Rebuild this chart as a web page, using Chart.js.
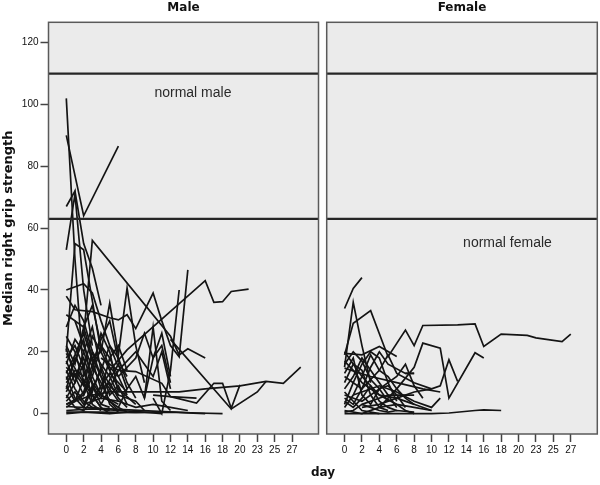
<!DOCTYPE html>
<html>
<head>
<meta charset="utf-8">
<script src="https://cdn.jsdelivr.net/npm/chart.js@4"></script>
<style>
  body { margin: 0; background: #fff; }
  #wrap { position: relative; width: 600px; height: 485px; }
  canvas { position: absolute; top: 0; }
  #male { left: 0; }
  #female { left: 322px; }
  #xtitle { position: absolute; left: 273px; width: 100px; top: 465px; text-align: center;
            font: bold 12px "DejaVu Sans"; color: #111; }
</style>
</head>
<body>
<div id="wrap">
  <canvas id="male" width="322" height="485"></canvas>
  <canvas id="female" width="278" height="485"></canvas>
  <div id="xtitle">day</div>
</div>
<script>
// day categories on the x axis (evenly spaced, not linear in days)
const dayCategories = [0,1,2,3,4,5,6,7,8,9,10,11,12,13,14,15,16,17,18,19,20,21,23,24,25,26,27,28];
const yTicks = [0, 20, 40, 60, 80, 100, 120];
const normalLines = [110, 63];

// one entry per patient: [day, median right grip strength]
const maleSeries = [
  [[0,102],[1,50],[2,12]],
  [[0,90],[2,64],[6,86.5]],
  [[0,67],[1,72],[2,55],[3,47],[4,35]],
  [[0,53],[1,71],[2,40],[3,22]],
  [[0,20],[1,55],[2,53],[4,20]],
  [[2,25],[3,56],[12,25],[13,19],[14,21],[16,18]],
  [[0,40],[2,42],[3,39],[4,30],[5,22],[6,15]],
  [[0,38],[1,33.6],[3,33],[5,31],[6,30.3],[7,32],[8,27.5],[10,39],[11,30],[12,22],[13,18.4],[14,46.5]],
  [[5,14],[7,20.6],[16,43],[17,36],[18,36.2],[19,39.5],[21,40.3]],
  [[0,3],[3,6],[5,7],[13,7],[16,8],[20,9],[24,10.4],[26,9.8],[28,15]],
  [[12,24],[19,1.5],[23,7],[24,10.4]],
  [[10,6],[12,5.5],[15,3.4],[17,9.8],[18,9.8],[19,1.7],[20,9.3]],
  [[4,18],[6,14],[8,13.6],[11,9.8],[12,5.5],[15,5]],
  [[10,5],[11,0],[12,14],[13,40]],
  [[0,2.3],[5,1.5],[10,0.8],[15,0.2],[18,0]],
  [[0,0.5],[4,0.5],[8,0.3],[12,0.5],[16,0]],
  [[0,1],[3,1.5],[6,1],[9,0.5],[11,0]],
  [[0,0],[2,0.5],[5,0],[7,0.5]],
  [[0,32],[1,30],[2,22],[3,15],[4,10],[5,4],[6,1]],
  [[0,28],[1,35],[2,30],[3,20],[4,16],[5,12],[6,6]],
  [[0,19.5],[2,9.8],[4,2],[5,0]],
  [[0,18],[1,22],[2,15],[3,25],[4,20],[5,35.7],[6,19],[7,40.6],[8,22],[9,10]],
  [[0,15],[1,12],[2,18],[3,10],[4,6],[5,4],[6,2],[7,0.5]],
  [[0,12],[1,5],[2,2],[3,8],[4,14],[5,22],[6,18],[7,10],[8,5]],
  [[0,10],[1,14],[2,12],[3,18],[4,20],[6,8],[8,3]],
  [[0,8],[1,18],[2,14],[3,6],[4,2]],
  [[0,5],[1,10],[2,20],[3,12],[4,6],[6,3]],
  [[0,3],[2,6],[3,12],[4,22],[5,15],[6,12],[8,18],[9,26],[10,18],[11,22],[12,10]],
  [[0,14],[1,8],[2,4],[3,2],[5,1]],
  [[0,22],[1,16],[2,28],[3,18],[4,12],[5,8],[6,4]],
  [[4,3],[5,8],[6,14],[8,20],[9,16],[10,12],[11,20],[12,8]],
  [[0,6],[1,2],[2,1],[3,4],[4,9],[5,13],[6,10],[7,7]],
  [[0,25],[1,20],[2,10],[3,3],[4,1]],
  [[1,30],[2,28],[3,35],[4,22],[5,18],[6,12],[7,6]],
  [[6,2],[7,8],[8,12],[9,5],[10,18],[11,26],[12,12]],
  [[9,5],[10,28],[11,4],[12,1]],
  [[0,16],[1,24],[2,20],[3,28],[4,14],[5,6],[6,9],[7,3]],
  [[0,9],[1,4],[2,7],[3,16],[4,24],[5,30],[6,17],[7,12]],
  [[2,3],[4,5],[6,4],[8,2],[10,3],[12,2],[14,1]],
  [[0,4],[1,7],[2,3],[3,9],[4,3],[5,2]],
  [[0,11],[1,17],[2,24],[3,9],[4,5],[5,11],[6,16],[7,8]],
  [[0,21],[1,12],[2,6],[3,14],[4,26],[5,20],[6,7]],
  [[0,7],[1,13],[2,9],[3,20],[4,12],[5,3],[6,0.5]],
  [[0,13],[1,19],[2,26],[3,17],[4,8],[5,10],[6,5],[7,2]],
  [[0,2],[1,4],[2,11],[3,7],[4,15],[5,9],[6,6],[8,4],[9,1]],
  [[0,17],[1,10],[2,16],[3,4],[4,7],[5,18],[6,22],[7,14]]
];

const femaleSeries = [
  [[0,19],[1,29.2],[3,33.3],[5,18.4],[7,27],[8,22],[9,28.5],[13,28.7],[15,29],[16,21.7],[18,25.7],[21,25.3],[23,24.5],[26,23.3],[27,25.7]],
  [[0,34],[1,40.5],[2,44]],
  [[0,15],[1,36],[2,22],[3,10]],
  [[0,12],[2,8],[4,14],[5,19],[6,13],[8,10],[10,8]],
  [[0,19.5],[2,19],[4,21.7],[6,18.5]],
  [[4,2],[6,8],[8,15],[9,22.8],[11,21.2],[12,5],[15,19.7],[16,18]],
  [[2,2],[4,3],[6,5],[8,7],[10,8],[11,9],[12,17.4],[13,10.4]],
  [[0,0],[5,0],[10,0],[12,0.2],[15,1],[16,1.2],[18,1]],
  [[0,14.7],[3,12],[6,10],[9,8],[11,7]],
  [[1,6],[4,9],[6,7],[8,4],[10,2],[11,5]],
  [[0,17],[1,14],[2,10],[3,8],[4,6],[6,5],[8,3]],
  [[0,8],[1,12],[2,18],[3,14],[4,10],[5,6],[6,2]],
  [[0,5],[1,3],[2,8],[3,15],[4,20],[5,16],[7,13],[8,13]],
  [[0,2],[1,6],[2,12],[3,19],[4,14],[5,12],[6,8],[7,5],[8,3],[10,1]],
  [[0,0.5],[1,1],[2,3],[3,2],[4,1],[5,0.5],[6,1],[8,0.5]],
  [[0,1],[2,0],[4,2],[6,3],[7,1],[8,0]],
  [[0,7],[1,4],[2,1],[3,0.5],[4,0]],
  [[0,20],[2,12],[4,6],[6,3],[8,2],[10,1]],
  [[0,3],[1,10],[2,16],[3,20],[4,18],[5,10],[6,4]],
  [[0,10],[1,16],[2,14],[3,6],[4,2],[5,1]],
  [[7,13],[8,13]],
  [[2,3],[5,6],[8,6]],
  [[0,6],[2,4],[4,8],[6,12],[7,16],[8,9],[9,5]],
  [[0,13],[1,18],[2,6],[3,3],[4,8],[5,4]],
  [[0,4],[1,2],[2,5],[3,9],[4,4],[5,2],[6,1]],
  [[0,16],[1,20],[2,17],[3,11],[4,8],[5,9],[6,6],[7,2]]
];

const tickFont = { family: '"Liberation Sans", Arial, sans-serif', size: 10 };
const boldFont = { family: '"DejaVu Sans", sans-serif', size: 12, weight: 'bold' };

function toDatasets(series) {
  return series.map(s => ({
    data: s.map(p => ({ x: dayCategories.indexOf(p[0]), y: p[1] })),
    borderColor: '#141414',
    borderWidth: 1.7,
    pointRadius: 0,
    fill: false,
    tension: 0
  }));
}

// grey panel, reference lines, label and frame
const panelPlugin = {
  id: 'panel',
  beforeDatasetsDraw(chart) {
    const { ctx, chartArea: a } = chart;
    ctx.save();
    ctx.fillStyle = '#ebebeb';
    ctx.fillRect(a.left, a.top, a.width, a.height);
    ctx.restore();
  },
  afterDatasetsDraw(chart, args, opts) {
    const { ctx, chartArea: a } = chart;
    const y = chart.scales.y;
    ctx.save();
    ctx.strokeStyle = '#262626';
    ctx.lineWidth = 2.2;
    normalLines.forEach(v => {
      const py = y.getPixelForValue(v);
      ctx.beginPath();
      ctx.moveTo(a.left, py);
      ctx.lineTo(a.right, py);
      ctx.stroke();
    });
    ctx.fillStyle = '#2a2a2a';
    ctx.font = '14px "Liberation Sans", Arial, sans-serif';
    ctx.textAlign = 'center';
    ctx.textBaseline = 'middle';
    ctx.fillText(opts.label, a.left + a.width * opts.labelX, y.getPixelForValue(opts.labelY));
    ctx.strokeStyle = '#5a5a5a';
    ctx.lineWidth = 1.5;
    ctx.strokeRect(a.left, a.top, a.width, a.height);
    ctx.restore();
  }
};

function makeOptions(title, showY, label, labelX, labelY, pad) {
  return {
    responsive: false,
    animation: false,
    layout: { padding: pad },
    plugins: {
      legend: { display: false },
      tooltip: { enabled: false },
      title: {
        display: true, text: title, fullSize: false, color: '#111',
        font: boldFont, padding: { top: 1, bottom: 6.9 }
      },
      panel: { label: label, labelX: labelX, labelY: labelY }
    },
    scales: {
      x: {
        type: 'linear', min: -2.05, max: 29.05,
        afterBuildTicks: s => { s.ticks = dayCategories.map((d, i) => ({ value: i })).filter(t => t.value % 2 === 0); },
        afterFit: s => { s.height = 51; },
        ticks: { callback: v => dayCategories[v], font: tickFont, color: '#111', padding: 2, maxRotation: 0, autoSkip: false },
        grid: { drawOnChartArea: false, tickLength: 8, tickColor: '#444', tickWidth: 1.5 },
        border: { display: false }
      },
      y: {
        display: showY,
        min: -6.6, max: 126.6,
        afterBuildTicks: s => { s.ticks = yTicks.map(v => ({ value: v })); },
        afterFit: s => { s.width = showY ? 48.5 : 0; },
        ticks: { font: tickFont, color: '#111', padding: 2 },
        grid: { drawOnChartArea: false, tickLength: 8, tickColor: '#444', tickWidth: 1.5 },
        border: { display: false },
        title: {
          display: true, text: 'Median right grip strength', color: '#111',
          font: { family: '"DejaVu Sans", sans-serif', size: 13, weight: 'bold' },
          padding: { top: 1, bottom: 0 }
        }
      }
    }
  };
}

new Chart(document.getElementById('male'), {
  type: 'line',
  data: { datasets: toDatasets(maleSeries) },
  options: makeOptions('Male', true, 'normal male', 0.535, 103.8, { left: 0, right: 3.5, top: 0, bottom: 0 }),
  plugins: [panelPlugin]
});

new Chart(document.getElementById('female'), {
  type: 'line',
  data: { datasets: toDatasets(femaleSeries) },
  options: makeOptions('Female', false, 'normal female', 0.668, 55.2, { left: 4.7, right: 2.7, top: 0, bottom: 0 }),
  plugins: [panelPlugin]
});
</script>
</body>
</html>
